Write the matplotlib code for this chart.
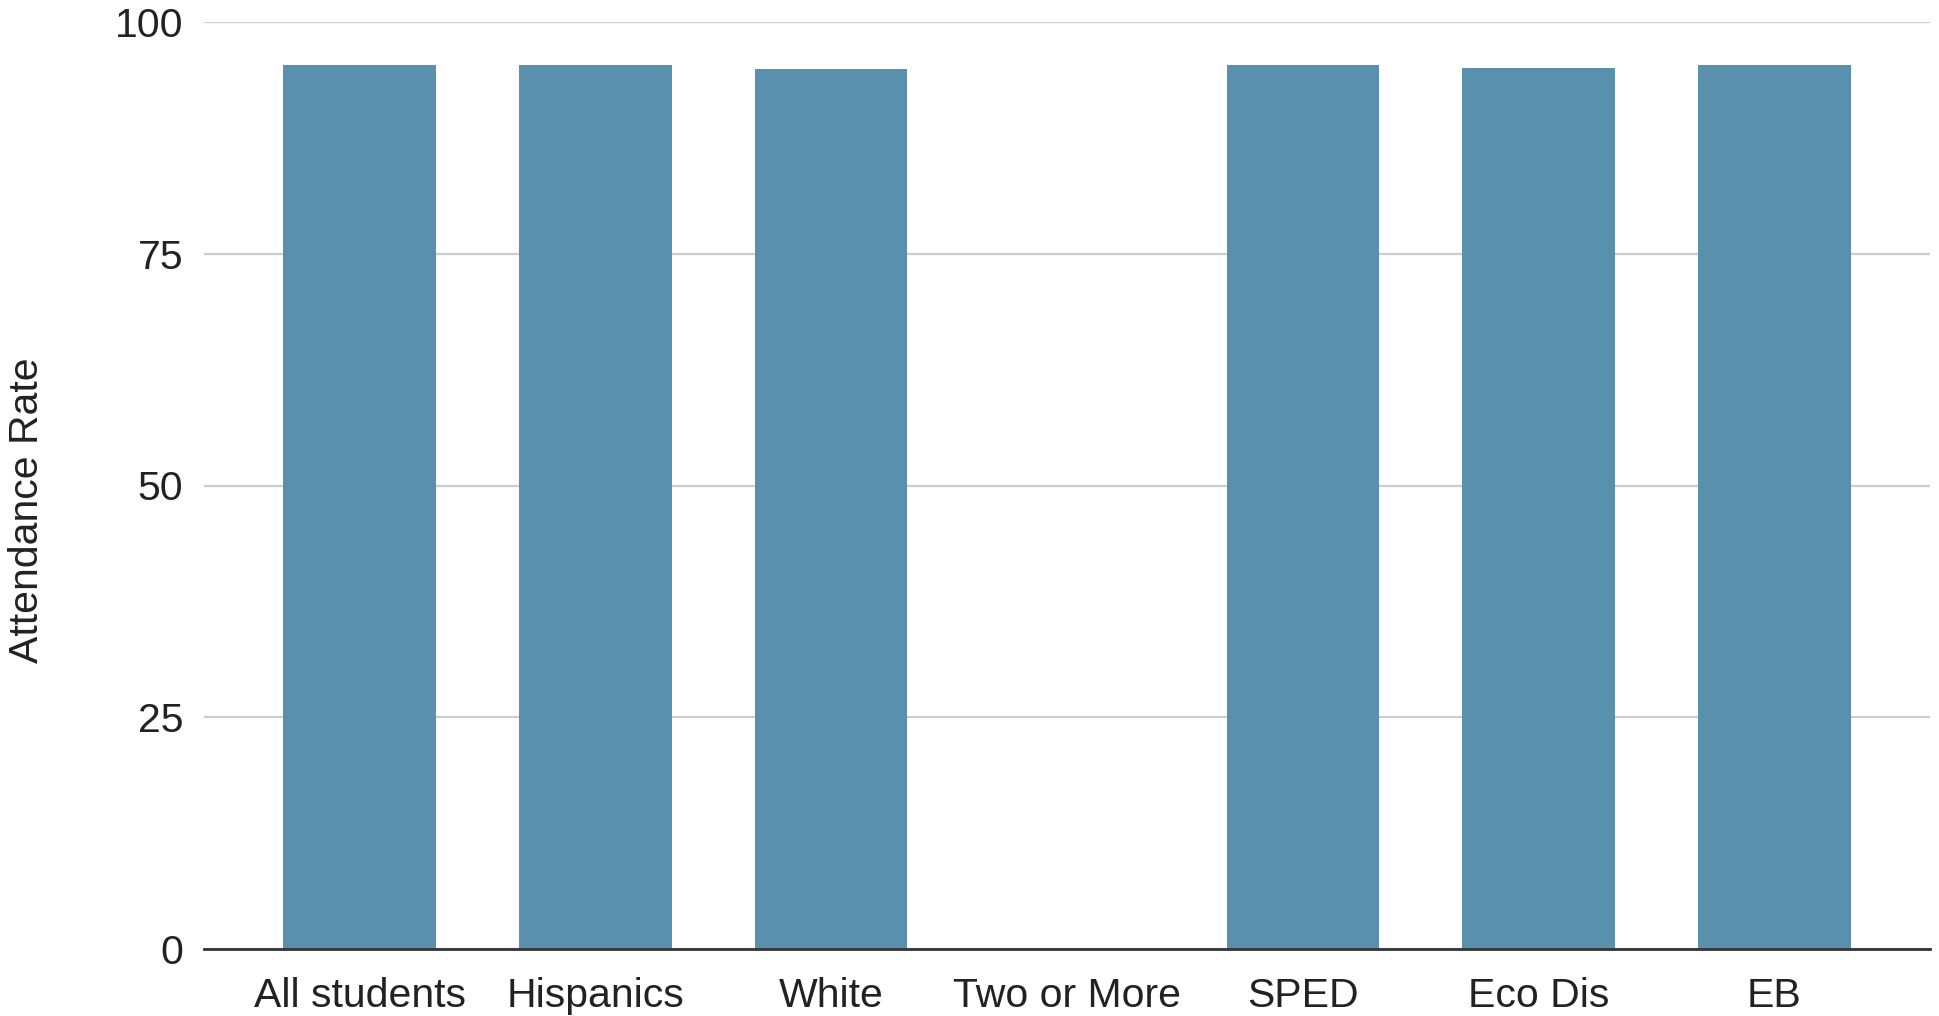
import matplotlib
matplotlib.use('Agg')
import matplotlib.pyplot as plt
import numpy as np

categories = ['All students', 'Hispanics', 'White', 'Two or More', 'SPED', 'Eco Dis', 'EB']
attendance = [95.4, 95.4, 94.9, 0, 95.4, 95.0, 95.4]
yticks = [0, 25, 50, 75, 100]

plt.rcParams['font.family'] = ['Liberation Sans', 'DejaVu Sans']

fig = plt.figure(figsize=(19.4, 10.16), dpi=100)
ax = fig.add_axes([204/1940, 1 - 949/1016, (1930 - 204)/1940, (949 - 22)/1016])

x = np.arange(len(categories))
ax.bar(x, attendance, width=0.646, color='#5990ad', zorder=3)

ax.set_xlim(-0.66, len(categories) - 1 + 0.66)
ax.set_ylim(0, 100)
ax.set_yticks(yticks)
ax.set_yticklabels([str(t) for t in yticks])
ax.set_xticks(x)
ax.set_xticklabels(categories)
ax.tick_params(axis='both', length=0, labelsize=29.5, labelcolor='#222222')
ax.tick_params(axis='y', pad=15)
ax.tick_params(axis='x', pad=20)
ax.yaxis.grid(True, color='#cccccc', linewidth=1.6, zorder=0)
for s in ['top', 'right', 'left']:
    ax.spines[s].set_visible(False)
ax.spines['bottom'].set_color('#333333')
ax.spines['bottom'].set_linewidth(2)
ax.spines['bottom'].set_zorder(4)

fig.text(27/1940, 1 - 510/1016, 'Attendance Rate', rotation=90, fontsize=29.5,
         color='#222222', ha='center', va='center')

fig.savefig('out.png', dpi=100)
